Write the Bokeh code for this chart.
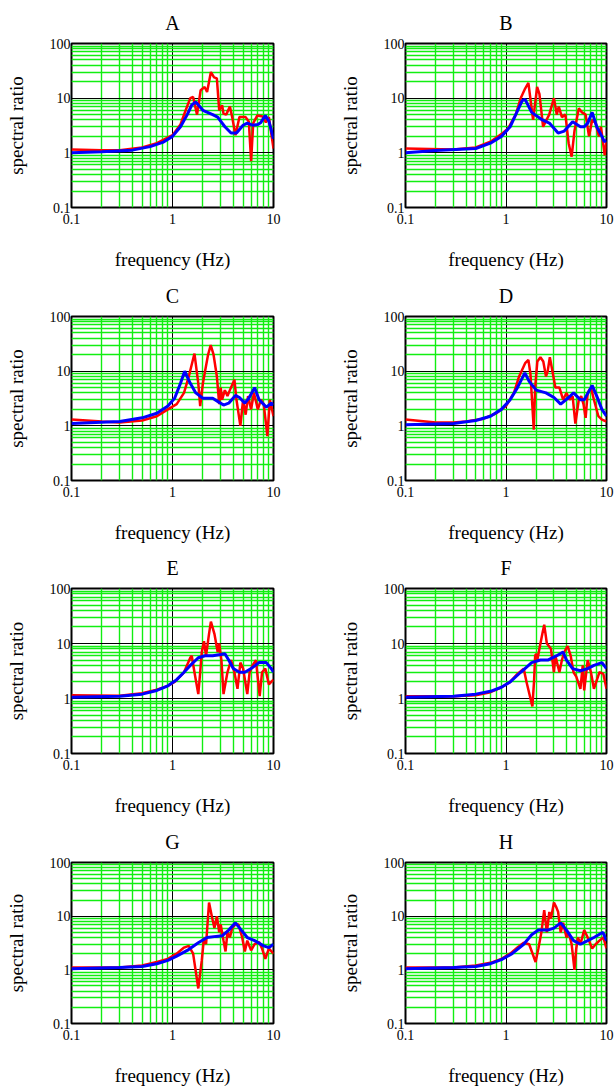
from bokeh.plotting import figure
from bokeh.layouts import gridplot
from bokeh.models import FixedTicker, CustomJSTickFormatter
from bokeh.embed import file_html
from bokeh.resources import INLINE

# ---- data (frequency in Hz, spectral ratio) ----
A_red_f = [0.1, 0.2, 0.3, 0.5, 0.7, 1.0, 1.2, 1.35, 1.5, 1.6, 1.75, 1.9, 2.08, 2.2, 2.4, 2.58, 2.75, 2.9, 3.1, 3.2, 3.4, 3.7, 3.9, 4.2, 4.6, 5.3, 5.7, 6.0, 6.3, 6.9, 7.8, 8.4, 9.0, 10]
A_red_v = [1.15, 1.12, 1.12, 1.25, 1.5, 2.1, 3.3, 6.0, 10.0, 10.5, 5.0, 14, 16, 13, 30, 24, 23, 6, 7.4, 5.2, 5.0, 7.0, 4.5, 2.1, 4.5, 4.5, 3.7, 0.7, 3.5, 4.8, 4.6, 3.6, 4.5, 1.2]
A_blue_f = [0.1, 0.2, 0.4, 0.6, 0.8, 1.0, 1.2, 1.4, 1.55, 1.7, 2.0, 2.5, 2.8, 3.3, 3.8, 4.3, 5.0, 5.5, 6.2, 7.0, 7.5, 8.3, 9.0, 10]
A_blue_v = [1.0, 1.05, 1.12, 1.3, 1.55, 2.0, 3.0, 5.0, 7.5, 8.5, 6.0, 5.0, 4.5, 3.0, 2.3, 2.3, 3.2, 3.5, 3.2, 3.3, 3.6, 4.8, 3.8, 1.8]

B_red_f = [0.1, 0.3, 0.5, 0.7, 0.9, 1.05, 1.25, 1.4, 1.55, 1.67, 1.86, 1.95, 2.04, 2.15, 2.34, 2.69, 3.0, 3.2, 3.35, 3.6, 3.9, 4.2, 4.5, 4.8, 5.3, 5.7, 6.2, 6.7, 7.2, 7.8, 8.4, 8.8, 9.6, 10]
B_red_v = [1.2, 1.15, 1.25, 1.6, 2.2, 2.8, 5.0, 10, 15, 19, 4.0, 8, 16, 12, 3.0, 5, 10, 5, 7, 4.5, 5, 1.5, 0.85, 2.5, 6.5, 5.5, 5, 2, 4, 3.5, 2, 3, 0.9, 1.6]
B_blue_f = [0.1, 0.2, 0.5, 0.7, 0.9, 1.1, 1.25, 1.45, 1.55, 1.8, 2.3, 2.7, 3.3, 3.8, 4.6, 5.5, 6.0, 6.5, 7.2, 8.0, 9.0, 9.5, 10]
B_blue_v = [1.0, 1.1, 1.2, 1.5, 2.0, 3.0, 5.0, 9.0, 9.5, 5.5, 4.0, 3.5, 2.3, 2.5, 3.7, 3.0, 3.0, 3.5, 5.5, 3.0, 2.0, 1.6, 1.7]

C_red_f = [0.1, 0.2, 0.3, 0.5, 0.7, 0.9, 1.1, 1.3, 1.45, 1.65, 1.8, 1.88, 2.0, 2.1, 2.25, 2.39, 2.55, 2.75, 2.9, 3.0, 3.1, 3.3, 3.5, 3.7, 4.1, 4.3, 4.7, 5.0, 5.3, 5.6, 6.0, 6.4, 7.0, 7.5, 8.0, 8.7, 9.2, 10]
C_red_v = [1.3, 1.2, 1.15, 1.25, 1.5, 2.0, 2.5, 4.0, 8.0, 21, 6, 2.3, 6, 10, 20, 30, 20, 8, 2.5, 5, 3, 4.5, 3.5, 4.5, 7, 3, 1.0, 3, 1.6, 3.5, 2, 4, 2, 3, 2.5, 0.65, 3, 1.5]
C_blue_f = [0.1, 0.3, 0.5, 0.7, 0.9, 1.05, 1.2, 1.32, 1.5, 1.7, 2.0, 2.5, 2.8, 3.2, 3.6, 4.2, 4.6, 5.2, 5.7, 6.5, 7.2, 8.5, 9.5, 10]
C_blue_v = [1.1, 1.2, 1.4, 1.7, 2.3, 3.2, 6.0, 10.0, 6.0, 4.0, 3.2, 3.2, 2.8, 2.4, 2.6, 3.6, 3.3, 2.6, 3.2, 5.0, 3.0, 2.2, 2.6, 2.4]

D_red_f = [0.1, 0.2, 0.3, 0.4, 0.6, 0.8, 1.0, 1.2, 1.35, 1.55, 1.67, 1.75, 1.89, 1.95, 2.05, 2.2, 2.35, 2.5, 2.6, 2.73, 2.9, 3.1, 3.4, 3.7, 4.0, 4.3, 4.6, 4.9, 5.3, 5.6, 5.9, 6.2, 6.5, 7.0, 7.5, 8.3, 9.0, 10]
D_red_v = [1.3, 1.15, 1.15, 1.2, 1.35, 1.7, 2.3, 4.0, 8.0, 14, 16, 9, 0.85, 5, 15, 18, 15, 8, 10, 18, 10, 5, 5, 3, 4, 3, 3.5, 1.1, 3, 3.5, 2.5, 1.4, 4, 5, 3, 1.5, 1.3, 1.2]
D_blue_f = [0.1, 0.3, 0.5, 0.7, 0.9, 1.1, 1.3, 1.54, 1.7, 2.0, 2.5, 3.0, 3.5, 4.2, 4.7, 5.5, 6.0, 7.2, 8.0, 9.0, 10]
D_blue_v = [1.05, 1.1, 1.25, 1.5, 2.0, 3.0, 5.0, 9.3, 6.5, 4.5, 4.0, 3.3, 2.5, 3.3, 4.0, 3.0, 3.0, 5.5, 3.5, 2.0, 1.5]

E_red_f = [0.1, 0.3, 0.5, 0.7, 0.9, 1.05, 1.3, 1.5, 1.55, 1.65, 1.8, 1.88, 1.95, 2.05, 2.15, 2.3, 2.4, 2.6, 2.8, 2.9, 3.05, 3.2, 3.5, 3.8, 4.1, 4.4, 4.7, 5.0, 5.5, 5.8, 6.2, 6.7, 7.3, 7.7, 8.3, 9.0, 9.5, 10]
E_red_v = [1.15, 1.12, 1.25, 1.45, 1.7, 2.0, 3.0, 5.5, 6.0, 3.0, 1.2, 3.0, 7.0, 11, 6.0, 15, 25, 15, 7, 10, 5, 1.2, 3, 5, 3, 1.5, 4.5, 3.5, 1.2, 3, 4, 5, 1.1, 3, 3.5, 1.8, 2, 2.2]
E_blue_f = [0.1, 0.3, 0.5, 0.7, 0.9, 1.1, 1.3, 1.5, 1.8, 2.1, 2.5, 3.0, 3.3, 3.6, 4.0, 4.6, 5.2, 6.0, 7.2, 8.5, 9.5, 10]
E_blue_v = [1.05, 1.1, 1.2, 1.4, 1.7, 2.2, 3.0, 4.0, 5.5, 6.0, 6.0, 6.3, 6.5, 5.0, 3.5, 3.0, 3.0, 3.5, 4.5, 4.5, 3.5, 3.0]

F_red_f = [0.1, 0.3, 0.5, 0.7, 0.9, 1.1, 1.3, 1.5, 1.6, 1.83, 1.9, 1.95, 2.0, 2.05, 2.15, 2.3, 2.4, 2.55, 2.8, 3.0, 3.1, 3.4, 3.6, 3.8, 4.1, 4.4, 4.7, 5.0, 5.5, 5.8, 6.0, 6.5, 7.0, 7.5, 8.5, 9.3, 10]
F_red_v = [1.1, 1.1, 1.15, 1.3, 1.6, 2.0, 2.8, 3.5, 2.0, 0.72, 2.0, 6.0, 6.5, 5.0, 8.0, 15, 22, 10, 8, 3, 6, 3, 5, 7, 9, 6, 3, 2.5, 1.5, 4, 1.4, 5, 3, 1.5, 3, 2.8, 1.5]
F_blue_f = [0.1, 0.3, 0.5, 0.7, 0.9, 1.1, 1.4, 1.8, 2.2, 2.6, 3.2, 3.7, 4.0, 4.6, 5.5, 6.5, 7.5, 9.0, 10]
F_blue_v = [1.05, 1.1, 1.2, 1.35, 1.6, 2.0, 3.0, 4.5, 5.0, 5.0, 6.0, 7.0, 5.0, 3.5, 3.2, 3.5, 4.0, 4.5, 3.5]

G_red_f = [0.1, 0.3, 0.5, 0.7, 0.9, 1.1, 1.3, 1.45, 1.6, 1.72, 1.8, 1.95, 2.05, 2.15, 2.3, 2.45, 2.6, 2.75, 2.9, 3.0, 3.2, 3.35, 3.5, 3.7, 3.9, 4.2, 4.5, 4.9, 5.2, 5.5, 6.0, 6.5, 7.2, 7.7, 8.3, 9.0, 10]
G_red_v = [1.1, 1.1, 1.2, 1.4, 1.6, 2.0, 2.6, 2.8, 2.0, 0.8, 0.45, 1.5, 4.0, 3.0, 18, 10, 6, 10, 5, 7, 3.5, 2.2, 5, 4, 6, 7, 7, 4, 2.2, 3.5, 2.3, 3, 3.3, 2.5, 1.6, 2.5, 2.0]
G_blue_f = [0.1, 0.3, 0.5, 0.7, 0.9, 1.1, 1.4, 1.8, 2.2, 2.7, 3.1, 3.6, 4.2, 4.8, 5.5, 6.5, 8.0, 9.0, 10]
G_blue_v = [1.05, 1.1, 1.15, 1.3, 1.5, 1.8, 2.3, 3.2, 4.0, 4.2, 4.3, 5.5, 7.5, 5.5, 4.0, 3.5, 2.8, 2.6, 3.0]

H_red_f = [0.1, 0.3, 0.5, 0.7, 0.9, 1.1, 1.3, 1.5, 1.7, 1.97, 2.1, 2.25, 2.4, 2.55, 2.7, 2.8, 3.0, 3.15, 3.3, 3.5, 3.7, 4.0, 4.2, 4.5, 4.8, 5.0, 5.2, 5.5, 6.0, 6.5, 7.2, 7.8, 8.5, 9.3, 10]
H_red_v = [1.1, 1.1, 1.2, 1.35, 1.6, 2.0, 2.6, 3.2, 3.0, 1.4, 2.5, 5.0, 13, 5.0, 12, 9, 18, 15, 12, 5, 7.5, 4, 5, 3, 1.0, 2.5, 4, 3, 5.5, 4, 2.5, 3, 3.5, 4, 2.5]
H_blue_f = [0.1, 0.3, 0.5, 0.7, 0.9, 1.15, 1.5, 1.8, 2.1, 2.6, 3.0, 3.5, 4.0, 4.7, 5.5, 6.5, 7.5, 9.2, 10]
H_blue_v = [1.05, 1.1, 1.15, 1.3, 1.55, 2.0, 3.0, 4.5, 5.5, 5.5, 6.0, 7.5, 5.5, 3.5, 3.0, 3.5, 4.0, 5.0, 3.5]

panel_titles = ["A", "B", "C", "D", "E", "F", "G", "H"]
x_major = [0.1, 1, 10]
y_major = [0.1, 1, 10, 100]

series = [
    (A_red_f, A_red_v, A_blue_f, A_blue_v),
    (B_red_f, B_red_v, B_blue_f, B_blue_v),
    (C_red_f, C_red_v, C_blue_f, C_blue_v),
    (D_red_f, D_red_v, D_blue_f, D_blue_v),
    (E_red_f, E_red_v, E_blue_f, E_blue_v),
    (F_red_f, F_red_v, F_blue_f, F_blue_v),
    (G_red_f, G_red_v, G_blue_f, G_blue_v),
    (H_red_f, H_red_v, H_blue_f, H_blue_v),
]

# ---- layout ----
row_heights = [273, 272, 273, 270]
row_tops = [43, 43, 43, 44]
frame_heights = [164, 164, 165, 163]
col_widths = [307, 308]
col_lefts = [71, 98]
frame_widths = [202, 201]

FONT = "Liberation Serif"

def minor_list(majors):
    out = []
    for m in majors[:-1]:
        out += [m * k for k in range(2, 10)]
    return out

fmt = CustomJSTickFormatter(code="return String(tick);")

figs = []
for i, (rf, rv, bf, bv) in enumerate(series):
    r, c = divmod(i, 2)
    h = row_heights[r]
    w = col_widths[c]
    p = figure(width=w, height=h, x_axis_type="log", y_axis_type="log",
               x_range=(0.1, 10), y_range=(0.1, 100),
               output_backend="svg", toolbar_location=None,
               min_border_left=col_lefts[c],
               min_border_right=w - col_lefts[c] - frame_widths[c],
               min_border_top=row_tops[r],
               min_border_bottom=h - row_tops[r] - frame_heights[r],
               title=panel_titles[i])
    p.title.align = "center"
    p.title.text_font = FONT
    p.title.text_font_size = "20px"
    p.title.text_font_style = "normal"
    p.title.text_color = "black"
    p.title.standoff = 19

    p.xaxis.ticker = FixedTicker(ticks=x_major, minor_ticks=minor_list(x_major))
    p.yaxis.ticker = FixedTicker(ticks=y_major, minor_ticks=minor_list(y_major))
    for ax in (p.xaxis[0], p.yaxis[0]):
        ax.formatter = fmt
        ax.major_tick_out = 0
        ax.major_tick_in = 0
        ax.minor_tick_out = 0
        ax.minor_tick_in = 0
        ax.axis_line_color = None
        ax.major_label_text_font = FONT
        ax.major_label_text_font_size = "14px"
        ax.major_label_text_color = "black"
        ax.axis_label_text_font = FONT
        ax.axis_label_text_font_size = "19px"
        ax.axis_label_text_font_style = "normal"
        ax.axis_label_text_color = "black"
    p.xaxis.axis_label = "frequency (Hz)"
    p.yaxis.axis_label = "spectral ratio"
    p.xaxis.major_label_standoff = 6
    p.xaxis.axis_label_standoff = 22
    p.yaxis.major_label_standoff = 1
    p.yaxis.axis_label_standoff = 20

    for g in (p.xgrid[0], p.ygrid[0]):
        g.grid_line_color = "black"
        g.grid_line_width = 1
        g.minor_grid_line_color = "#11ee11"
        g.minor_grid_line_width = 1.4

    p.outline_line_color = "black"
    p.outline_line_width = 2
    p.background_fill_color = "white"
    p.border_fill_color = "white"

    p.line(rf, rv, line_color="#ff0000", line_width=2.5)
    p.line(bf, bv, line_color="#0000ff", line_width=3)
    figs.append(p)

grid = gridplot([[figs[0], figs[1]], [figs[2], figs[3]], [figs[4], figs[5]], [figs[6], figs[7]]],
                toolbar_location=None)

open("out.html", "w").write(file_html(grid, INLINE))
